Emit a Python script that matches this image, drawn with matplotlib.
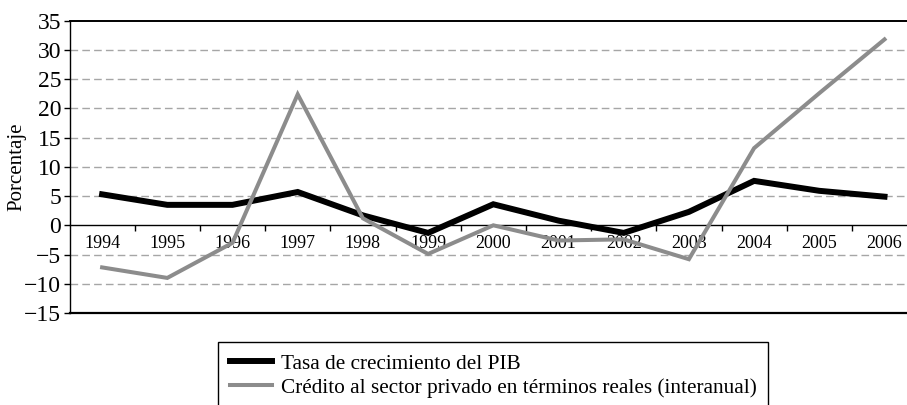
import matplotlib
matplotlib.use("Agg")
import matplotlib.pyplot as plt
from matplotlib.ticker import FixedLocator

years = ["1994", "1995", "1996", "1997", "1998", "1999", "2000",
         "2001", "2002", "2003", "2004", "2005", "2006"]
pib = [5.3, 3.5, 3.5, 5.7, 1.7, -1.3, 3.6, 0.8, -1.3, 2.3, 7.6, 5.9, 4.9]
credito = [-7.2, -9.0, -3.0, 22.4, 1.2, -4.9, 0.0, -2.6, -2.4, -5.8, 13.2, 22.6, 31.8]
label_pib = "Tasa de crecimiento del PIB"
label_cred = "Crédito al sector privado en términos reales (interanual)"
yticks = [-15, -10, -5, 0, 5, 10, 15, 20, 25, 30, 35]
gridvals = [-10, -5, 5, 10, 15, 20, 25, 30]

plt.rcParams['font.family'] = ['Liberation Serif', 'DejaVu Serif']

fig = plt.figure(figsize=(9.07, 4.05), dpi=100)
ax = fig.add_axes([69.5 / 907, 92 / 405, 13 * 65.2 / 907, 292.3 / 405])

x = list(range(len(years)))
for g in gridvals:
    ax.axhline(g, color='#a6a6a6', lw=1.0, linestyle=(0, (5.5, 3.0)), zorder=1)

l1, = ax.plot(x, pib, color='black', lw=4.3, solid_joinstyle='miter', zorder=3)
l2, = ax.plot(x, credito, color='#8c8c8c', lw=2.9, solid_joinstyle='miter', zorder=3)

ax.set_xlim(-0.5, len(years) - 0.5)
ax.set_ylim(-15, 35)

# spines
ax.spines['right'].set_visible(False)
ax.spines['bottom'].set_position(('data', 0))
for s in ['left', 'bottom', 'top']:
    ax.spines[s].set_linewidth(1.0)
    ax.spines[s].set_color('black')
ax.axhline(-15, color='black', lw=1.6, clip_on=False, zorder=4)
ax.spines['top'].set_linewidth(1.4)

ax.set_xticks(x)
ax.set_xticklabels(years, fontsize=13)
ax.xaxis.set_minor_locator(FixedLocator([i + 0.5 for i in range(len(years) - 1)]))
ax.tick_params(axis='x', which='major', length=0, pad=7)
ax.tick_params(axis='x', which='minor', length=4, width=1, direction='out')

ax.set_yticks(yticks)
ax.tick_params(axis='y', which='major', length=4, width=1, direction='out', pad=2, labelsize=17)
ax.set_ylabel("Porcentaje", fontsize=15)
ax.yaxis.set_label_coords((26 - 69.5) / (13 * 65.2), 0.5)

leg = fig.legend([l1, l2], [label_pib, label_cred], loc='upper left',
                 bbox_to_anchor=(218 / 907, 1 - 342 / 405), bbox_transform=fig.transFigure,
                 borderaxespad=0, frameon=True, fancybox=False, edgecolor='black',
                 framealpha=1, prop={'family': 'Liberation Serif', 'size': 15.3},
                 handlelength=2.0, handletextpad=0.4, borderpad=0.55, labelspacing=0.2)
leg.get_frame().set_linewidth(1.0)

fig.savefig("out.png", dpi=100)
